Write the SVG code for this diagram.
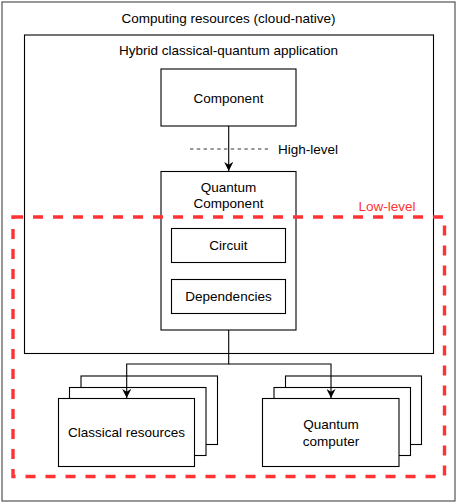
<svg xmlns="http://www.w3.org/2000/svg" width="457" height="504" viewBox="0 0 457 504">
<defs>
<style>
.box{fill:#fff;stroke:#000;stroke-width:1.1}
.t{font-family:"Liberation Sans",Arial,sans-serif;font-size:13.5px;fill:#000;text-anchor:middle;dominant-baseline:central}
.edge{fill:none;stroke:#000;stroke-width:1.1}
</style>
<marker id="ah" viewBox="0 0 10 10" refX="10" refY="5" markerWidth="9" markerHeight="9" markerUnits="userSpaceOnUse" orient="auto">
<path d="M0,0 L10,5 L0,10 L3,5 Z" fill="#000"/>
</marker>
</defs>
<rect width="457" height="504" fill="#fff"/>
<g id="computing-resources">
<rect x="2" y="2" width="453" height="499" fill="#fff" stroke="#444" stroke-width="1.1"/>
<text class="t" x="228.5" y="18">Computing resources (cloud-native)</text>
</g>
<g id="hybrid-app">
<rect class="box" x="24.5" y="35" width="409" height="318.5"/>
<text class="t" x="228.5" y="50">Hybrid classical-quantum application</text>
</g>
<g id="component">
<rect class="box" x="161" y="69" width="135" height="57"/>
<text class="t" x="228.5" y="98">Component</text>
</g>
<g id="quantum-component">
<rect class="box" x="161" y="171.5" width="135" height="158.5"/>
<text class="t" x="228.5" y="187.5">Quantum</text>
<text class="t" x="228.5" y="203">Component</text>
</g>
<g id="circuit">
<rect class="box" x="171.5" y="228.5" width="114" height="34"/>
<text class="t" x="228.5" y="245.5">Circuit</text>
</g>
<g id="dependencies">
<rect class="box" x="171.5" y="279.5" width="114" height="34"/>
<text class="t" x="228.5" y="296.5">Dependencies</text>
</g>
<g id="high-level">
<line x1="190" y1="149" x2="268" y2="149" stroke="#333" stroke-width="1.1" stroke-dasharray="3.4 3.4"/>
<text class="t" x="278" y="149" style="text-anchor:start">High-level</text>
</g>
<g id="low-level">
<rect x="13" y="217" width="431.5" height="259.5" fill="none" stroke="#ff3333" stroke-width="3.4" stroke-dasharray="10 10"/>
<text class="t" x="387" y="206" style="fill:#ff3333">Low-level</text>
</g>
<g id="classical-resources">
<rect class="box" x="81" y="376" width="136.5" height="68.5"/>
<rect class="box" x="69.5" y="387.5" width="136.5" height="68"/>
<rect class="box" x="58.5" y="398.5" width="136" height="68"/>
<text class="t" x="126.5" y="432.5">Classical resources</text>
</g>
<g id="quantum-computer">
<rect class="box" x="285.5" y="376" width="136" height="68.5"/>
<rect class="box" x="274" y="387.5" width="136.5" height="68"/>
<rect class="box" x="262.5" y="398.5" width="136.5" height="68"/>
<text class="t" x="331" y="424">Quantum</text>
<text class="t" x="331" y="441">computer</text>
</g>
<g id="connectors">
<path class="edge" d="M228.7,126 L228.7,171" marker-end="url(#ah)"/>
<path class="edge" d="M228.7,330 L228.7,364 L126.7,364 L126.7,398" marker-end="url(#ah)"/>
<path class="edge" d="M228.7,364 L331,364 L331,398" marker-end="url(#ah)"/>
</g>
</svg>
